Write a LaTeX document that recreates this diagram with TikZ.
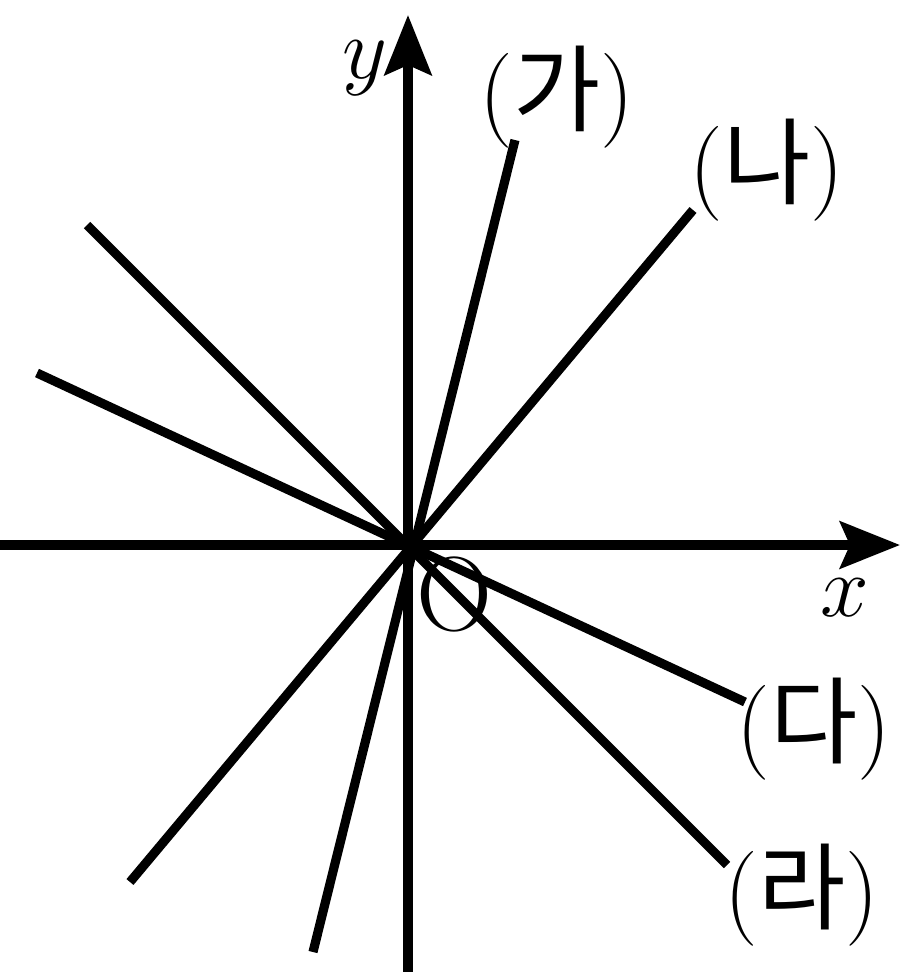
\documentclass[tikz,border=0pt]{standalone}
\usepackage{fontspec}
\newfontfamily\kr{Noto Sans CJK KR}
\usetikzlibrary{arrows.meta}
\newcommand{\hg}[1]{({\kr #1})}

\begin{document}
\begin{tikzpicture}[line width=2.6pt,
    lbl/.style={font=\fontsize{27}{32}\selectfont, inner sep=0pt},
    axis/.style={-{Stealth[length=6mm,width=4.7mm,inset=1mm]}}]
            % \draw[help lines] (-4, -4) grid (5, 5);
            \useasboundingbox (-4.08,-4.27) rectangle (4.96,5.45);
            \coordinate (O) at (0,0);
            \coordinate (xl) at (-4.08,0);
            \coordinate (xr) at (4.92,0);
            \coordinate (yb) at (0,-4.27);
            \coordinate (yt) at (0,5.30);
            \coordinate (ga1) at (1.07,4.05);
            \coordinate (ga2) at (-0.95,-4.07);
            \coordinate (na1) at (2.85,3.35);
            \coordinate (na2) at (-2.78,-3.37);
            \coordinate (da1) at (-3.71,1.72);
            \coordinate (da2) at (3.37,-1.57);
            \coordinate (ra1) at (-3.21,3.20);
            \coordinate (ra2) at (3.19,-3.20);
            \draw[axis] (xl) -- (xr);
            \draw[axis] (yb) -- (yt);
            \draw (ga2) -- (ga1);
            \draw (na2) -- (na1);
            \draw (da1) -- (da2);
            \draw (ra1) -- (ra2);
            \node[lbl] (ylbl) at (-0.43,4.77) {$y$};
            \node[lbl] (xlbl) at (4.37,-0.53) {$x$};
            \node[lbl, font=\fontsize{30}{34}\selectfont] (olbl) at (0.46,-0.49) {O};
            \node[lbl] (galbl) at (1.49,4.48) {\hg{가}};
            \node[lbl] (nalbl) at (3.59,3.75) {\hg{나}};
            \node[lbl] (dalbl) at (4.06,-1.84) {\hg{다}};
            \node[lbl] (ralbl) at (3.94,-3.50) {\hg{라}};
        \end{tikzpicture}
\end{document}
